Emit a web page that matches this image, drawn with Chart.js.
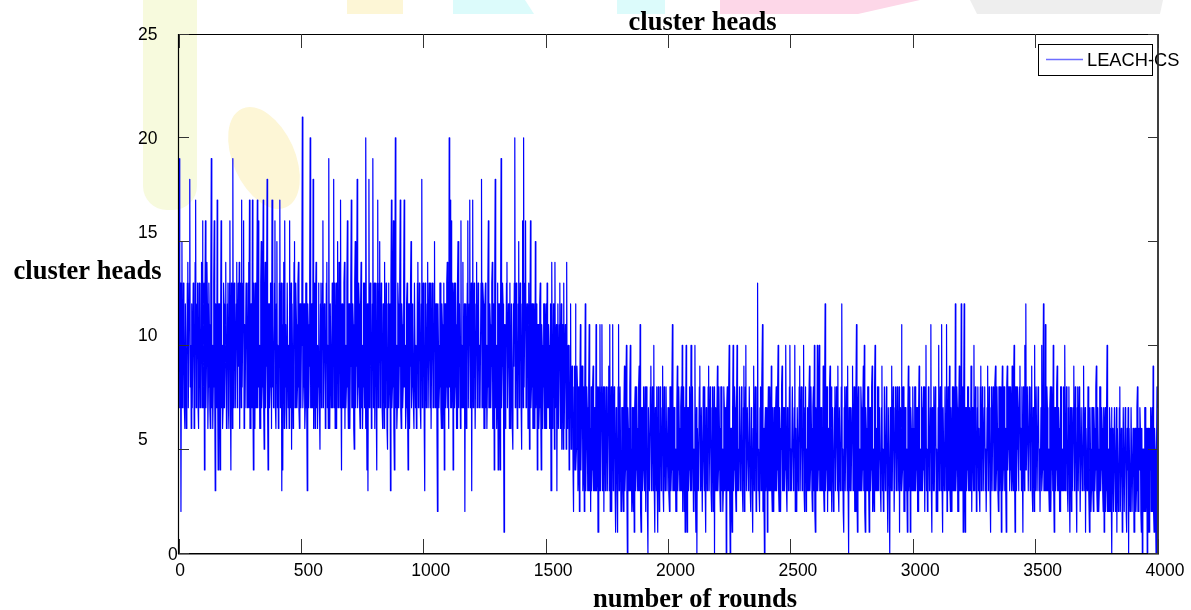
<!DOCTYPE html>
<html>
<head>
<meta charset="utf-8">
<title>cluster heads</title>
<script src="https://cdn.jsdelivr.net/npm/chart.js@4.4.1/dist/chart.umd.min.js"></script>
<style>
  html, body { margin: 0; padding: 0; background: #fff; }
  #myChart { display: block; }
</style>
</head>
<body>
<canvas id="myChart" width="1191" height="610"></canvas>
<script>
// one sample every 2 rounds
const roundStep = 2;

// cluster heads per round, LEACH-CS, split in blocks of 500 rounds
const heads0000 = [
  19, 7, 9, 13, 2, 11, 15, 7, 8, 13, 11, 7, 6, 12, 12, 6, 9, 13, 14, 7,
  7, 13, 18, 8, 10, 6, 12, 7, 7, 13, 11, 6, 8, 14, 17, 7, 9, 12, 13, 7,
  6, 13, 11, 7, 8, 13, 14, 7, 16, 8, 7, 13, 4, 12, 16, 7, 9, 14, 12, 6,
  8, 13, 11, 7, 6, 13, 19, 7, 10, 6, 8, 13, 16, 8, 3, 12, 11, 7, 17, 8,
  4, 12, 12, 7, 4, 11, 16, 7, 10, 6, 7, 13, 12, 7, 9, 13, 14, 6, 8, 12,
  13, 7, 6, 13, 16, 8, 4, 13, 11, 6, 19, 7, 8, 13, 12, 7, 7, 12, 14, 7,
  10, 13, 9, 14, 6, 12, 13, 7, 17, 8, 8, 13, 16, 6, 11, 7, 7, 13, 12, 7,
  9, 13, 14, 7, 17, 6, 6, 12, 12, 7, 17, 8, 4, 13, 11, 6, 13, 7, 7, 13,
  17, 7, 16, 8, 10, 6, 6, 13, 15, 7, 8, 12, 17, 7, 5, 12, 14, 7, 9, 13,
  18, 7, 4, 12, 12, 7, 8, 13, 13, 6, 17, 8, 11, 7, 9, 13, 16, 7, 6, 12,
  15, 7, 10, 6, 7, 13, 17, 7, 8, 13, 3, 11, 4, 13, 14, 6, 16, 8, 11, 7,
  6, 13, 13, 7, 10, 6, 16, 7, 9, 13, 5, 12, 12, 6, 9, 14, 15, 7, 7, 13,
  11, 7, 8, 13, 14, 7, 6, 12, 12, 7
];
const heads0500 = [
  10, 13, 21, 7, 8, 12, 12, 6, 7, 13, 13, 7, 3, 12, 11, 7, 9, 13, 20, 7,
  7, 12, 12, 7, 18, 6, 9, 13, 6, 12, 14, 7, 10, 6, 8, 13, 12, 7, 5, 12,
  13, 7, 9, 13, 16, 7, 7, 12, 11, 6, 8, 13, 14, 7, 10, 6, 19, 8, 6, 12,
  12, 7, 9, 13, 7, 13, 18, 7, 13, 6, 10, 13, 6, 12, 15, 7, 8, 14, 11, 7,
  17, 8, 4, 12, 12, 7, 7, 13, 14, 6, 10, 7, 8, 13, 16, 8, 6, 12, 12, 6,
  9, 13, 17, 7, 7, 12, 11, 6, 5, 13, 15, 7, 9, 12, 18, 7, 8, 13, 12, 7,
  6, 12, 14, 7, 10, 6, 8, 13, 13, 7, 11, 6, 20, 8, 4, 12, 3, 11, 18, 7,
  9, 13, 12, 6, 7, 12, 19, 7, 10, 13, 6, 12, 13, 7, 4, 13, 17, 7, 8, 13,
  15, 7, 9, 13, 12, 7, 6, 12, 10, 6, 14, 7, 8, 13, 11, 6, 5, 12, 13, 7,
  9, 12, 3, 13, 17, 7, 8, 13, 16, 6, 4, 12, 20, 7, 10, 6, 7, 13, 12, 7,
  9, 13, 17, 7, 6, 12, 11, 7, 8, 13, 17, 8, 10, 6, 7, 12, 13, 7, 4, 12,
  12, 6, 9, 13, 15, 7, 8, 12, 11, 7, 6, 13, 13, 7, 10, 6, 7, 13, 14, 7,
  9, 13, 12, 7, 6, 12, 18, 7, 10, 13
];
const heads1000 = [
  11, 6, 3, 13, 12, 7, 8, 12, 14, 7, 7, 13, 10, 7, 13, 6, 6, 13, 11, 7,
  9, 13, 15, 7, 7, 12, 12, 6, 2, 12, 10, 7, 8, 13, 13, 7, 6, 12, 11, 6,
  9, 13, 4, 12, 12, 7, 8, 13, 14, 7, 10, 6, 20, 8, 17, 7, 16, 7, 9, 13,
  4, 12, 13, 7, 8, 13, 11, 6, 6, 13, 15, 7, 9, 12, 12, 6, 16, 7, 10, 7,
  14, 7, 8, 12, 2, 11, 12, 6, 9, 13, 16, 7, 7, 12, 17, 7, 8, 13, 3, 12,
  17, 7, 9, 13, 11, 6, 6, 12, 14, 7, 8, 13, 12, 7, 10, 7, 7, 13, 18, 7,
  9, 13, 12, 6, 6, 12, 13, 7, 10, 6, 8, 13, 16, 7, 7, 12, 11, 7, 9, 13,
  14, 6, 6, 12, 4, 13, 18, 7, 10, 6, 8, 13, 4, 12, 12, 7, 4, 12, 19, 7,
  9, 13, 12, 7, 1, 11, 11, 6, 8, 13, 14, 7, 7, 12, 10, 6, 13, 7, 6, 12,
  12, 6, 5, 12, 9, 13, 20, 7, 8, 13, 11, 6, 7, 12, 15, 7, 9, 13, 12, 7,
  5, 12, 16, 7, 20, 8, 8, 13, 16, 7, 9, 12, 11, 6, 7, 13, 5, 11, 16, 7,
  8, 12, 12, 6, 6, 12, 10, 6, 15, 7, 8, 12, 4, 11, 11, 6, 7, 12, 13, 7,
  4, 11, 10, 6, 8, 12, 12, 6, 6, 11
];
const heads1500 = [
  12, 6, 13, 7, 7, 11, 10, 6, 6, 12, 3, 10, 14, 6, 8, 12, 10, 5, 14, 7,
  7, 11, 3, 10, 12, 6, 6, 11, 13, 6, 8, 12, 5, 11, 9, 5, 13, 6, 6, 11,
  10, 5, 14, 6, 7, 10, 9, 4, 5, 10, 12, 5, 6, 9, 8, 4, 2, 8, 9, 4,
  12, 4, 5, 9, 8, 3, 4, 8, 2, 8, 11, 4, 6, 9, 9, 3, 4, 8, 2, 8,
  12, 3, 5, 8, 7, 3, 3, 8, 11, 3, 6, 2, 8, 3, 4, 8, 9, 3, 3, 7,
  7, 3, 11, 3, 4, 8, 1, 7, 8, 3, 11, 3, 3, 8, 11, 3, 5, 8, 2, 7,
  8, 3, 4, 8, 6, 3, 3, 8, 9, 3, 11, 2, 5, 8, 2, 7, 11, 3, 4, 8,
  7, 3, 1, 7, 6, 3, 1, 8, 11, 3, 5, 8, 8, 2, 3, 7, 7, 3, 2, 7,
  9, 3, 4, 8, 10, 3, 0, 7, 6, 3, 3, 8, 10, 3, 5, 2, 7, 3, 2, 7,
  1, 7, 8, 3, 4, 8, 6, 3, 3, 8, 9, 3, 11, 2, 1, 7, 7, 3, 4, 8,
  5, 3, 8, 3, 2, 8, 6, 2, 0, 7, 7, 3, 3, 8, 9, 3, 4, 8, 6, 3,
  10, 3, 1, 7, 5, 3, 8, 3, 1, 8, 6, 2, 3, 8, 7, 3, 4, 7, 9, 3,
  2, 8, 6, 3, 4, 8, 8, 3, 3, 7
];
const heads2000 = [
  6, 3, 2, 8, 8, 3, 4, 8, 11, 3, 3, 7, 7, 3, 5, 2, 2, 7, 9, 3,
  4, 8, 6, 3, 3, 7, 8, 3, 10, 2, 5, 8, 2, 7, 1, 6, 10, 3, 1, 7,
  7, 3, 4, 8, 6, 3, 10, 3, 3, 8, 8, 2, 5, 3, 10, 3, 1, 7, 0, 6,
  6, 3, 3, 8, 9, 3, 4, 7, 7, 2, 2, 8, 5, 3, 8, 3, 1, 7, 6, 3,
  4, 8, 9, 3, 3, 8, 6, 3, 2, 7, 8, 2, 5, 8, 0, 7, 7, 3, 3, 7,
  9, 3, 4, 8, 6, 3, 2, 8, 8, 3, 5, 2, 3, 8, 7, 3, 4, 7, 0, 7,
  8, 3, 3, 8, 10, 3, 0, 6, 6, 2, 1, 7, 10, 3, 4, 8, 7, 3, 2, 7,
  10, 3, 5, 3, 3, 8, 8, 3, 4, 8, 6, 3, 2, 7, 9, 2, 5, 8, 10, 3,
  3, 7, 7, 3, 4, 8, 8, 3, 2, 7, 6, 3, 1, 6, 9, 3, 4, 8, 6, 2,
  3, 8, 13, 3, 5, 3, 2, 7, 8, 3, 4, 8, 11, 2, 6, 3, 0, 6, 7, 3,
  4, 7, 1, 6, 8, 3, 3, 8, 6, 3, 9, 3, 2, 7, 5, 2, 7, 3, 3, 7,
  8, 3, 4, 8, 10, 3, 2, 7, 6, 2, 5, 8, 9, 3, 3, 7, 7, 3, 4, 8,
  10, 3, 2, 7, 6, 3, 4, 8, 10, 3
];
const heads2500 = [
  5, 3, 3, 8, 8, 3, 4, 7, 10, 2, 6, 3, 2, 7, 7, 3, 5, 8, 9, 3,
  3, 8, 6, 3, 4, 8, 10, 3, 2, 7, 8, 2, 5, 3, 7, 3, 3, 7, 9, 3,
  4, 8, 6, 3, 2, 7, 8, 3, 10, 2, 1, 7, 6, 3, 10, 3, 4, 8, 10, 3,
  3, 7, 7, 3, 5, 3, 9, 3, 2, 8, 12, 3, 4, 8, 8, 2, 6, 3, 3, 8,
  9, 3, 5, 8, 2, 7, 7, 2, 4, 7, 8, 3, 3, 8, 6, 3, 9, 3, 2, 7,
  7, 3, 4, 8, 12, 3, 5, 2, 1, 7, 8, 3, 3, 8, 6, 3, 9, 3, 0, 7,
  5, 3, 7, 3, 3, 7, 9, 3, 4, 8, 6, 2, 2, 8, 11, 3, 1, 7, 8, 3,
  5, 3, 3, 8, 7, 3, 4, 7, 9, 3, 10, 2, 1, 7, 6, 3, 3, 8, 8, 3,
  1, 7, 7, 3, 4, 8, 9, 2, 5, 3, 2, 8, 10, 3, 6, 3, 3, 8, 8, 3,
  4, 7, 7, 3, 2, 7, 9, 3, 5, 2, 3, 8, 8, 3, 4, 8, 6, 3, 1, 7,
  7, 3, 0, 7, 5, 3, 9, 3, 3, 8, 6, 2, 2, 7, 8, 3, 4, 8, 7, 3,
  3, 8, 1, 7, 6, 3, 11, 3, 4, 8, 8, 2, 2, 7, 7, 3, 5, 3, 1, 7,
  9, 3, 4, 8, 1, 7, 6, 3, 3, 8
];
const heads3000 = [
  6, 3, 3, 8, 8, 3, 4, 7, 7, 2, 2, 7, 9, 3, 5, 3, 3, 8, 7, 3,
  4, 8, 8, 3, 2, 7, 10, 3, 5, 2, 3, 8, 7, 3, 4, 7, 11, 3, 1, 7,
  6, 3, 8, 3, 3, 8, 7, 2, 5, 3, 2, 7, 10, 3, 4, 8, 6, 3, 11, 3,
  1, 7, 7, 3, 4, 8, 8, 3, 11, 2, 3, 8, 6, 3, 9, 3, 2, 7, 5, 2,
  8, 3, 3, 8, 6, 3, 12, 3, 4, 8, 7, 2, 2, 7, 9, 3, 5, 3, 12, 3,
  3, 8, 1, 7, 12, 3, 1, 7, 7, 3, 4, 8, 8, 3, 3, 7, 6, 3, 9, 2,
  2, 7, 5, 3, 10, 3, 4, 8, 7, 2, 3, 7, 8, 3, 6, 3, 2, 8, 9, 3,
  4, 8, 7, 3, 3, 7, 8, 3, 5, 2, 2, 7, 9, 3, 4, 8, 6, 3, 1, 7,
  8, 3, 3, 8, 7, 3, 5, 8, 9, 3, 4, 8, 6, 3, 2, 8, 8, 3, 5, 8,
  1, 7, 9, 3, 4, 8, 8, 3, 6, 3, 1, 8, 9, 4, 5, 8, 8, 3, 4, 8,
  7, 3, 9, 4, 3, 8, 10, 4, 1, 8, 8, 3, 5, 8, 7, 3, 4, 8, 9, 4,
  6, 3, 8, 4, 1, 8, 7, 3, 10, 4, 12, 4, 4, 8, 8, 3, 3, 8, 7, 3,
  5, 8, 9, 3, 2, 7, 6, 2, 10, 3
];
const heads3500 = [
  4, 8, 8, 3, 3, 8, 7, 3, 5, 2, 2, 7, 10, 3, 4, 8, 12, 3, 6, 3,
  11, 3, 3, 8, 7, 3, 5, 3, 2, 7, 8, 2, 4, 8, 6, 3, 10, 3, 1, 7,
  7, 3, 4, 8, 9, 3, 3, 7, 6, 2, 2, 8, 8, 3, 5, 3, 3, 8, 7, 3,
  10, 3, 4, 8, 6, 3, 2, 7, 8, 3, 1, 7, 5, 2, 7, 3, 3, 7, 9, 3,
  4, 8, 6, 3, 1, 7, 8, 3, 3, 8, 5, 2, 2, 7, 7, 3, 4, 7, 9, 3,
  3, 7, 1, 6, 6, 3, 4, 8, 8, 3, 1, 7, 5, 2, 3, 7, 7, 3, 2, 7,
  6, 3, 4, 8, 9, 3, 2, 7, 5, 2, 3, 8, 8, 3, 4, 7, 6, 3, 2, 7,
  1, 6, 7, 2, 3, 7, 10, 2, 5, 2, 2, 7, 6, 2, 4, 7, 0, 6, 5, 2,
  2, 7, 7, 2, 4, 7, 1, 6, 6, 2, 3, 7, 8, 2, 2, 6, 5, 1, 3, 7,
  7, 2, 2, 7, 6, 2, 1, 6, 4, 7, 0, 6, 6, 2, 3, 7, 7, 2, 2, 6,
  5, 1, 1, 6, 6, 2, 3, 7, 8, 2, 2, 6, 4, 7, 6, 2, 1, 6, 0, 5,
  5, 2, 2, 7, 7, 2, 3, 6, 0, 6, 6, 1, 1, 6, 4, 7, 2, 6, 7, 2,
  9, 2, 1, 6, 5, 2, 0, 5, 8, 7
];

const xTicks = [0, 500, 1000, 1500, 2000, 2500, 3000, 3500, 4000];
const yTicks = [0, 5, 10, 15, 20, 25];

const seriesLabel = 'LEACH-CS';
const chartTitle = 'cluster heads';
const xTitle = 'number of rounds';
const yTitle = 'cluster heads';

const heads = [].concat(heads0000, heads0500, heads1000, heads1500,
                        heads2000, heads2500, heads3000, heads3500);
const points = heads.map((v, i) => ({ x: i * roundStep, y: v }));

const tickFont = '17.5px "Liberation Sans", Arial, sans-serif';
const titleFont = 'bold 26.5px "Liberation Serif", "Times New Roman", serif';

// pale page marks sitting behind the figure
const backdrop = {
  id: 'backdrop',
  beforeDraw(chart) {
    const c = chart.ctx;
    c.save();
    c.fillStyle = '#fff';
    c.fillRect(0, 0, chart.width, chart.height);

    c.fillStyle = '#f7fadd';
    c.beginPath();
    c.roundRect(143, -30, 54, 240, 24);
    c.fill();

    c.fillStyle = '#fdf6d6';
    c.beginPath();
    c.ellipse(264, 158, 31, 54, -0.42, 0, Math.PI * 2);
    c.fill();
    c.fillRect(347, 0, 56, 14);

    c.fillStyle = '#dcfbfb';
    c.beginPath();
    c.moveTo(453, 0); c.lineTo(525, 0); c.lineTo(534, 14); c.lineTo(453, 14);
    c.fill();
    c.fillRect(617, 0, 48, 14);

    c.fillStyle = '#fdd7e8';
    c.beginPath();
    c.moveTo(720, 0); c.lineTo(920, 0); c.lineTo(858, 14); c.lineTo(720, 14);
    c.fill();

    c.fillStyle = '#eeeeee';
    c.beginPath();
    c.moveTo(970, 0); c.lineTo(1163, 0); c.lineTo(1160, 14); c.lineTo(977, 14);
    c.fill();
    c.restore();
  }
};

// boxed axes with inward ticks, legend and titles
const yLabelNudge = { 0: 2, 5: -9, 10: -9, 15: -8, 20: 1, 25: 1 };

const frame = {
  id: 'frame',
  afterDraw(chart) {
    const c = chart.ctx;
    const a = chart.chartArea;
    const xs = chart.scales.x;
    const ys = chart.scales.y;
    c.save();

    // legend
    c.fillStyle = '#fff';
    c.fillRect(1038.5, 44.5, 114, 31);
    c.strokeStyle = '#000';
    c.lineWidth = 1;
    c.strokeRect(1038.5, 44.5, 114, 31);
    c.strokeStyle = '#6e6eff';
    c.lineWidth = 1.4;
    c.beginPath();
    c.moveTo(1046, 59.5); c.lineTo(1083, 59.5);
    c.stroke();
    c.fillStyle = '#000';
    c.font = '18.3px "Liberation Sans", Arial, sans-serif';
    c.textAlign = 'left';
    c.textBaseline = 'middle';
    c.fillText(chart.data.datasets[0].label, 1087, 60.5);

    // box
    c.strokeStyle = '#000';
    c.lineWidth = 1.2;
    c.beginPath();
    c.moveTo(a.left - 0.5, a.top + 0.5);
    c.lineTo(a.right, a.top + 0.5);
    c.moveTo(a.left - 0.5, a.top);
    c.lineTo(a.left - 0.5, a.bottom + 1);
    c.stroke();
    c.lineWidth = 1.5;
    c.beginPath();
    c.moveTo(a.left - 1, a.bottom + 0.8);
    c.lineTo(a.right + 1, a.bottom + 0.8);
    c.stroke();
    c.strokeStyle = '#2a2a2a';
    c.lineWidth = 1.8;
    c.beginPath();
    c.moveTo(a.right, a.top);
    c.lineTo(a.right, a.bottom + 1);
    c.stroke();

    // ticks
    c.strokeStyle = '#333';
    c.lineWidth = 1;
    c.beginPath();
    xTicks.forEach(v => {
      const px = Math.floor(xs.getPixelForValue(v)) + 0.5;
      c.moveTo(px, a.bottom); c.lineTo(px, a.bottom - 14);
      c.moveTo(px, a.top); c.lineTo(px, a.top + 14);
    });
    yTicks.forEach(v => {
      const py = Math.floor(ys.getPixelForValue(v)) + 0.5;
      c.moveTo(a.left, py); c.lineTo(a.left + 10, py);
      c.moveTo(a.right, py); c.lineTo(a.right - 10, py);
    });
    c.stroke();

    // tick labels
    c.fillStyle = '#000';
    c.font = tickFont;
    c.textBaseline = 'middle';
    c.textAlign = 'center';
    xTicks.forEach(v => {
      const px = xs.getPixelForValue(v) + (v === 0 ? 1 : 7);
      c.fillText(String(v), px, a.bottom + 18);
    });
    c.textAlign = 'left';
    yTicks.forEach(v => {
      const py = ys.getPixelForValue(v) + (yLabelNudge[v] || 0);
      c.fillText(String(v), v === 0 ? 168 : 138, py);
    });

    // titles
    c.font = titleFont;
    c.textBaseline = 'alphabetic';
    c.textAlign = 'center';
    c.fillText(chartTitle, 702.5, 30);
    c.fillText(xTitle, 695, 606.5);
    c.fillText(yTitle, 87.5, 279);
    c.restore();
  }
};

const ctx = document.getElementById('myChart').getContext('2d');
const myChart = new Chart(ctx, {
  type: 'line',
  data: {
    datasets: [{
      label: seriesLabel,
      data: points,
      borderColor: '#0000ff',
      borderWidth: 1.2,
      borderJoinStyle: 'round',
      pointRadius: 0,
      tension: 0,
      fill: false
    }]
  },
  options: {
    responsive: false,
    animation: false,
    devicePixelRatio: 1,
    parsing: false,
    normalized: true,
    events: [],
    layout: { padding: { left: 179, right: 33, top: 34, bottom: 57 } },
    plugins: {
      legend: { display: false },
      title: { display: false },
      tooltip: { enabled: false }
    },
    scales: {
      x: { type: 'linear', min: 0, max: 4000, display: false },
      y: { type: 'linear', min: 0, max: 25, display: false }
    }
  },
  plugins: [backdrop, frame]
});
</script>
</body>
</html>
